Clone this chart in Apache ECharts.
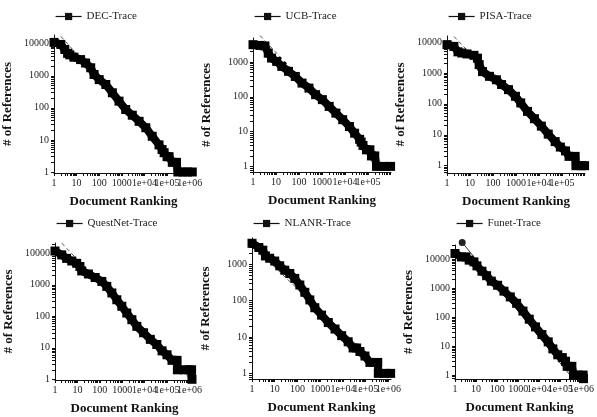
<!DOCTYPE html>
<html lang="en">
<head>
<meta charset="UTF-8" />
<title>Document ranking vs. references</title>
<script src="https://cdn.jsdelivr.net/npm/echarts@6/dist/echarts.min.js"></script>
<style>
  html, body { margin: 0; padding: 0; background: #fff; }
  #main { width: 597px; height: 417px; }
</style>
</head>
<body>
<div id="main"></div>
<script>
// [document rank, # of references]
const decTrace = [[1,11000],[2,9500],[3,6600],[4,5000],[5,4500],[7.6,3800],[15,3200],[25,2500],[42,1780],[59,1100],[100,760],[195,535],[380,295],[750,162],[1480,89],[2900,59],[5800,38],[11500,24],[22000,13],[44000,7],[60000,5],[74000,4],[100000,3],[123000,3],[170000,2],[260000,2],[300000,1],[500000,1],[800000,1],[1300000,1]];
const ucbTrace = [[1,3150],[2,3000],[3.3,2900],[4.6,1800],[6.4,1300],[10.7,1040],[17.8,750],[35,540],[69,385],[135,248],[270,178],[525,115],[1030,83],[2040,53],[4000,34],[7900,22],[15500,14],[26000,9],[43000,6],[50000,5],[60000,4],[85000,3],[120000,3],[140000,2],[195000,2],[233000,1],[500000,1],[950000,1]];
const pisaTrace = [[1,8200],[2,7200],[3,4800],[4.4,4400],[7.4,4100],[14.8,3700],[21,3000],[25,1850],[35,1100],[70,775],[140,600],[235,420],[470,288],[940,175],[1600,107],[3150,57],[6300,33],[12600,19],[25000,10.5],[50000,6],[84000,4],[141000,3],[200000,2],[370000,2],[400000,1],[700000,1],[950000,1]];
const questnetTrace = [[1,11800],[2,8900],[3.3,6900],[5.6,5700],[9.3,4800],[13,3800],[15.6,2750],[31,2200],[62,1700],[123,1280],[205,890],[345,550],[575,335],[960,208],[1600,127],[2700,78],[4500,48],[9000,30],[18000,18.5],[35000,12.7],[60000,8],[100000,6],[167000,4],[280000,4],[290000,2],[600000,2],[1000000,2],[1250000,2],[1300000,1]];
const nlanrTrace = [[1,3800],[2,2900],[3,2450],[3.9,1700],[6,1470],[10,1230],[16.6,910],[27.6,690],[46,560],[76,410],[127,270],[210,170],[350,105],[580,64],[1150,40],[2270,25],[4500,16.6],[8800,10.9],[17000,7.4],[28000,5],[40000,5],[56000,4],[93000,3],[154000,2],[340000,2],[360000,1],[700000,1],[1250000,1]];
const funetTrace = [[1,15800],[2,12000],[3.3,12000],[4.7,9300],[7.9,8100],[11,5900],[19,3850],[31.6,2700],[53,1750],[105,1260],[210,790],[420,500],[840,300],[1680,162],[3340,85],[6600,46],[13300,25],[26500,14],[44000,8],[75000,5],[124000,4],[175000,3],[210000,2],[350000,2],[420000,1],[700000,1],[1200000,1],[1250000,0.75]];

// fitted power-law lines (end points)
const decFit = [[2,17000],[300000,1.5]];
const ucbFit = [[2,5800],[400000,1.1]];
const pisaFit = [[2,15000],[500000,1.0]];
const questnetFit = [[2,21000],[1000000,1.1]];
const nlanrFit = [[1,3300],[800000,1]];
const funetFit = [[2.2,38000],[300000,0.95]];

const xTickValues = [1, 10, 100, 1000, 1e4, 1e5, 1e6];
const xTickLabels = ['1', '10', '100', '1000', '1e+04', '1e+05', '1e+06'];
const yTickValues = [1, 10, 100, 1000, 1e4];
const yTickLabels = ['1', '10', '100', '1000', '10000'];

// 2..9 in every decade, drawn as small tick marks
function withMinor(majors) {
  const out = [];
  majors.forEach(m => { for (let k = 1; k <= 9; k++) out.push(m * k); });
  return out;
}

const serif = '"Liberation Serif", "DejaVu Serif", serif';

const panels = [
  { name: 'DEC-Trace', data: decTrace, fit: decFit, left: 54, top: 35, width: 139, height: 138, yMin: 0.93, yMax: 18700, xMax: 1.4e6 },
  { name: 'UCB-Trace', data: ucbTrace, fit: ucbFit, left: 253, top: 38, width: 138, height: 134, yMin: 0.69, yMax: 4900, xMax: 9.9e5 },
  { name: 'PISA-Trace', data: pisaTrace, fit: pisaFit, left: 447, top: 36, width: 138, height: 137, yMin: 0.58, yMax: 15600, xMax: 9.9e5 },
  { name: 'QuestNet-Trace', data: questnetTrace, fit: questnetFit, left: 55, top: 243, width: 139, height: 137, yMin: 0.95, yMax: 21200, xMax: 1.6e6 },
  { name: 'NLANR-Trace', data: nlanrTrace, fit: nlanrFit, left: 252, top: 238, width: 139, height: 141, yMin: 0.7, yMax: 5300, xMax: 1.3e6 },
  { name: 'Funet-Trace', data: funetTrace, fit: funetFit, left: 455, top: 245, width: 136, height: 134, yMin: 0.73, yMax: 31000, xMax: 1.35e6, solidFit: true }
];

function tickText(values, labels) {
  return function (v) {
    const i = values.findIndex(t => Math.abs(t - v) / t < 1e-6);
    return i < 0 ? '' : labels[i];
  };
}

const grid = [], xAxis = [], yAxis = [], series = [], legend = [];

panels.forEach((p, i) => {
  const xTicks = withMinor(xTickValues).filter(v => v <= p.xMax);
  const yTicks = withMinor([0.1].concat(yTickValues)).filter(v => v >= p.yMin && v <= p.yMax);
  // an empty label at the axis end takes the "max label" slot, so the
  // crowded decade labels before it are all kept, like in the original
  const xLabelAt = xTickValues.filter(v => v < p.xMax).concat([p.xMax]);
  const yLabelAt = yTickValues.filter(v => v >= p.yMin && v < p.yMax).concat([p.yMax]);
  grid.push({ left: p.left, top: p.top, width: p.width, height: p.height });
  legend.push({
    data: [p.name],
    left: p.left - 4,
    top: p.top < 100 ? 6 : 213,
    itemWidth: 26,
    itemHeight: 9,
    lineStyle: { width: 1.2, color: '#111' },
    itemStyle: { color: '#111' },
    textStyle: { fontFamily: serif, fontSize: 11, color: '#222' }
  });
  xAxis.push({
    type: 'log', gridIndex: i, min: 1, max: p.xMax,
    name: 'Document Ranking', nameLocation: 'middle', nameGap: 22,
    nameTextStyle: { fontFamily: serif, fontWeight: 'bold', fontSize: 13, color: '#111' },
    axisLine: { lineStyle: { color: '#111', width: 1 } },
    axisTick: { length: 3, customValues: xTicks, lineStyle: { color: '#111' } },
    axisLabel: {
      customValues: xLabelAt,
      formatter: tickText(xTickValues, xTickLabels),
      hideOverlap: false, showMaxLabel: false,
      fontFamily: serif, fontSize: 10, color: '#222', margin: 5
    },
    splitLine: { show: false }
  });
  yAxis.push({
    type: 'log', gridIndex: i, min: p.yMin, max: p.yMax,
    name: '# of References', nameLocation: 'middle', nameGap: 40,
    nameTextStyle: { fontFamily: serif, fontWeight: 'bold', fontSize: 13, color: '#111' },
    axisLine: { lineStyle: { color: '#111', width: 1 } },
    axisTick: { length: 3, customValues: yTicks, lineStyle: { color: '#111' } },
    axisLabel: {
      customValues: yLabelAt,
      formatter: tickText(yTickValues, yTickLabels),
      hideOverlap: false, showMaxLabel: false,
      fontFamily: serif, fontSize: 10, color: '#222', margin: 5
    },
    splitLine: { show: false }
  });
  // fitted line, sits underneath the trace
  series.push({
    name: p.name + ' fit', type: 'line', xAxisIndex: i, yAxisIndex: i,
    data: p.solidFit
      ? [{ value: p.fit[0], symbol: 'circle', symbolSize: 7 }, { value: p.fit[1], symbol: 'none' }]
      : p.fit,
    symbol: 'none', silent: true, clip: false, z: 1,
    itemStyle: { color: '#222' },
    lineStyle: { color: p.solidFit ? '#333' : '#555', width: 1, type: p.solidFit ? 'solid' : [4, 3] }
  });
  series.push({
    name: p.name, type: 'line', xAxisIndex: i, yAxisIndex: i,
    data: p.data,
    symbol: 'rect', symbolSize: 9, showAllSymbol: true,
    clip: false, z: 2,
    itemStyle: { color: '#000' },
    lineStyle: { color: '#000', width: 8 }
  });
});

const myChart = echarts.init(document.getElementById('main'), null, { renderer: 'canvas' });
myChart.setOption({
  animation: false,
  backgroundColor: '#fff',
  grid, xAxis, yAxis, series, legend
});
</script>
</body>
</html>
